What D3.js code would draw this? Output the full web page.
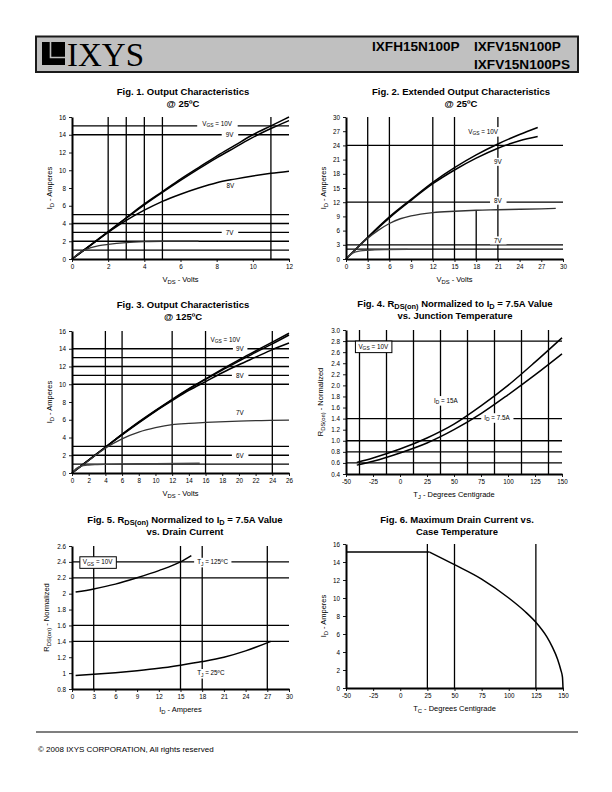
<!DOCTYPE html>
<html><head><meta charset="utf-8">
<script src="https://cdn.jsdelivr.net/npm/d3@7"></script>
<style>
body{margin:0;background:#fff}
svg{display:block}
text{font-family:"Liberation Sans",Arial,Helvetica,sans-serif}
</style>
</head><body>
<svg id="page" width="612" height="792"></svg>
<script>
// ---------- DATA ----------
// Fig 1: Output characteristics @25C
const fig1VDS   = [0,1,2,3,4,5,6,7,8,9,10,11,12];
const fig1Vgs10 = [0,1.55,3.1,4.65,6.2,7.6,9.0,10.3,11.6,12.8,14.0,15.0,16.0];
const fig1Vgs9  = [0,1.5,3.05,4.6,6.1,7.5,8.85,10.15,11.4,12.55,13.7,14.7,15.6];
const fig1Vgs8  = [0,1.5,3.0,4.35,5.5,6.5,7.3,8.0,8.6,9.0,9.35,9.65,9.9];
const fig1Vgs7X = [0,0.5,1,1.5,2,3,4,5,6,7];
const fig1Vgs7  = [0,0.8,1.25,1.5,1.65,1.85,1.95,2.0,2.0,2.0];
const fig1XTicks = [0,2,4,6,8,10,12];
const fig1YTicks = [0,2,4,6,8,10,12,14,16];

// Fig 2: Extended output characteristics @25C
const fig2VDS   = [0,3,6,9,12,15,18,21,24,26.5];
const fig2Vgs10 = [0,4.6,8.9,12.6,16.2,19.3,22.0,24.3,26.3,27.8];
const fig2Vgs9  = [0,4.5,8.7,12.4,15.9,18.8,21.3,23.4,25.0,25.9];
const fig2Vgs8X = [0,1.5,3,4.5,6,7.5,9,12,15,18,21,24,27,29];
const fig2Vgs8  = [0,2.3,4.4,6.1,7.5,8.5,9.1,9.8,10.1,10.3,10.4,10.5,10.6,10.7];
const fig2Vgs7X = [0,1,2,3,4,6,8.5];
const fig2Vgs7  = [0,1.3,1.7,1.85,1.95,2.0,2.05];
const fig2XTicks = [0,3,6,9,12,15,18,21,24,27,30];
const fig2YTicks = [0,3,6,9,12,15,18,21,24,27,30];

// Fig 3: Output characteristics @125C
const fig3VDS   = [0,2,4,6,8,10,12,14,16,18,20,22,24,26];
const fig3Vgs10 = [0,1.45,2.9,4.35,5.75,7.05,8.3,9.5,10.6,11.7,12.75,13.75,14.75,15.75];
const fig3Vgs9  = [0,1.45,2.9,4.35,5.7,7.0,8.25,9.45,10.55,11.6,12.6,13.6,14.55,15.55];
const fig3Vgs8  = [0,1.45,2.9,4.3,5.65,6.95,8.15,9.3,10.3,11.3,12.2,13.05,13.9,14.65];
const fig3Vgs7X = [0,2,4,6,8,10,12,14,16,20,26];
const fig3Vgs7  = [0,1.4,2.8,3.85,4.6,5.1,5.45,5.6,5.7,5.85,5.95];
const fig3Vgs6X = [0,0.5,1,2,3,4,6,10,15.3];
const fig3Vgs6  = [0,0.5,0.75,0.9,0.95,0.98,1.02,1.06,1.1];
const fig3XTicks = [0,2,4,6,8,10,12,14,16,18,20,22,24,26];
const fig3YTicks = [0,2,4,6,8,10,12,14,16];

// Fig 4: RDS(on) vs junction temperature
const fig4TJ    = [-40,-25,0,25,50,75,100,125,150];
const fig4Id15  = [0.61,0.69,0.85,1.05,1.3,1.63,2.0,2.42,2.86];
const fig4Id7_5 = [0.56,0.63,0.78,0.96,1.2,1.49,1.83,2.19,2.57];
const fig4XTicks = [-50,-25,0,25,50,75,100,125,150];
const fig4YTicks = [0.4,0.6,0.8,1.0,1.2,1.4,1.6,1.8,2.0,2.2,2.4,2.6,2.8,3.0];

// Fig 5: RDS(on) vs drain current
const fig5IdHot  = [0.5,3,6,9,12,15,16.5];
const fig5RHot   = [2.02,2.06,2.12,2.2,2.29,2.4,2.48];
const fig5IdCold = [0.5,3,6,9,12,15,18,21,24,27.5];
const fig5RCold  = [0.97,0.985,1.005,1.03,1.06,1.1,1.145,1.2,1.28,1.4];
const fig5XTicks = [0,3,6,9,12,15,18,21,24,27,30];
const fig5YTicks = [0.8,1,1.2,1.4,1.6,1.8,2,2.2,2.4,2.6];

// Fig 6: Max drain current vs case temperature
const fig6FlatTC = [-50,27];
const fig6FlatId = [15.1,15.1];
const fig6TC = [27,50,75,100,115,125,135,140,145,148,149.5,150];
const fig6Id = [15.1,13.7,12.1,10.0,8.5,7.3,5.7,4.6,3.2,2.0,1.2,0];
const fig6XTicks = [-50,-25,0,25,50,75,100,125,150];
const fig6YTicks = [0,2,4,6,8,10,12,14,16];

// ---------- DRAWING ----------
const svg = d3.select("#page");

function rich(sel, str, size) {
  const re = /_\{([^}]*)\}/g;
  let last = 0, m; const parts = [];
  while ((m = re.exec(str))) {
    if (m.index > last) parts.push([str.slice(last, m.index), false]);
    parts.push([m[1], true]);
    last = re.lastIndex;
  }
  if (last < str.length) parts.push([str.slice(last), false]);
  let prevSub = false;
  parts.forEach(([t, s]) => {
    const ts = sel.append("tspan").text(t);
    if (s) ts.attr("font-size", size * 0.78).attr("dy", size * 0.25);
    else if (prevSub) ts.attr("dy", -size * 0.25);
    prevSub = s;
  });
  return sel;
}

function label(g, x, y, str, size, opts) {
  opts = opts || {};
  const t = g.append("text").attr("x", x).attr("y", y)
    .attr("font-size", size).attr("text-anchor", opts.anchor || "start");
  rich(t, str, size);
  const bb = t.node().getBBox();
  const px = opts.padX != null ? opts.padX : 3, py = opts.padY != null ? opts.padY : 0.5;
  const r = g.insert("rect", () => t.node())
    .attr("x", bb.x - px).attr("y", bb.y - py)
    .attr("width", bb.width + 2 * px).attr("height", bb.height + 2 * py)
    .attr("fill", "#fff");
  if (opts.box) r.attr("stroke", "#000").attr("stroke-width", 1);
}

function drawChart(c) {
  const g = svg.append("g");
  const x = d3.scaleLinear().domain(c.xDomain).range(c.xRange);
  const y = d3.scaleLinear().domain(c.yDomain).range(c.yRange);

  c.title.forEach((t, i) => {
    const tx = g.append("text").attr("x", c.titleX).attr("y", c.titleY + i * 12.5)
      .attr("text-anchor", "middle").attr("font-weight", "bold").attr("font-size", 9.5);
    rich(tx, t, 9.5);
  });

  const gridG = g.append("g").attr("stroke", "#000").attr("stroke-width", 1.3);
  (c.vGrid || []).forEach(v => {
    const [xv, lo, hi] = Array.isArray(v) ? v : [v, c.yDomain[0], c.yDomain[1]];
    gridG.append("line").attr("x1", x(xv)).attr("x2", x(xv)).attr("y1", y(lo)).attr("y2", y(hi));
  });
  (c.hGrid || []).forEach(v => {
    const [yv, lo, hi] = Array.isArray(v) ? v : [v, c.xDomain[0], c.xDomain[1]];
    gridG.append("line").attr("y1", y(yv)).attr("y2", y(yv)).attr("x1", x(lo)).attr("x2", x(hi));
  });

  (c.labels || []).forEach(l => label(g, x(l.x), y(l.y), l.text, l.size || 6.3, l));

  c.series.forEach(s => {
    const line = d3.line().x(d => x(d[0])).y(d => y(d[1]))
      .curve(s.linear ? d3.curveLinear : d3.curveMonotoneX);
    g.append("path").attr("d", line(d3.zip(s.x, s.y)))
      .attr("fill", "none").attr("stroke", s.color || "#000")
      .attr("stroke-width", s.width || 1.5).attr("stroke-linejoin", "round");
  });

  const styleAxis = a => {
    a.attr("font-family", '"Liberation Sans",Arial,sans-serif').attr("font-size", 6.3);
    a.select(".domain").attr("stroke-width", 2);
    a.selectAll(".tick line").attr("stroke-width", 0.9);
    a.selectAll(".tick text").attr("fill", "#000");
  };
  const xa = g.append("g").attr("transform", `translate(0,${c.yRange[0]})`)
    .call(d3.axisBottom(x).tickValues(c.xTicks).tickSize(3).tickSizeOuter(0).tickPadding(3)
      .tickFormat(c.xFmt || (d => d)));
  styleAxis(xa);
  const ya = g.append("g").attr("transform", `translate(${c.xRange[0]},0)`)
    .call(d3.axisLeft(y).tickValues(c.yTicks).tickSize(3).tickSizeOuter(0).tickPadding(3)
      .tickFormat(c.yFmt || (d => d)));
  styleAxis(ya);

  const xt = g.append("text").attr("x", (c.xRange[0] + c.xRange[1]) / 2).attr("y", c.yRange[0] + 23)
    .attr("text-anchor", "middle").attr("font-size", 7.5);
  rich(xt, c.xTitle, 7.5);
  const yc = (c.yRange[0] + c.yRange[1]) / 2;
  const yt = g.append("text").attr("transform", `translate(${c.xRange[0] - c.yTitleOff},${yc}) rotate(-90)`)
    .attr("text-anchor", "middle").attr("font-size", 7.5);
  rich(yt, c.yTitle, 7.5);
}

// header
const hdr = svg.append("g");
hdr.append("rect").attr("x", 36).attr("y", 36.5).attr("width", 542).attr("height", 35.5)
  .attr("fill", "#c0c0c0").attr("stroke", "#1a1a1a").attr("stroke-width", 2);
hdr.append("rect").attr("x", 42).attr("y", 42).attr("width", 23).attr("height", 23).attr("fill", "#000");
hdr.append("path").attr("d", "M50.5,42 V57.5 H65").attr("fill", "none").attr("stroke", "#c0c0c0").attr("stroke-width", 1.6);
hdr.append("text").attr("x", 67).attr("y", 65.5).attr("font-size", 33)
  .style("font-family", '"Liberation Serif","Times New Roman",serif').text("IXYS");
hdr.append("text").attr("x", 372).attr("y", 51).attr("font-size", 13.6).attr("font-weight", "bold").text("IXFH15N100P");
hdr.append("text").attr("x", 474).attr("y", 51).attr("font-size", 13.6).attr("font-weight", "bold").text("IXFV15N100P");
hdr.append("text").attr("x", 474).attr("y", 69).attr("font-size", 13.6).attr("font-weight", "bold").text("IXFV15N100PS");

// Fig 1
drawChart({
  xDomain: [0, 12], xRange: [72, 289], yDomain: [0, 16], yRange: [259, 117],
  xTicks: fig1XTicks, yTicks: fig1YTicks,
  title: ["Fig. 1. Output Characteristics", "@ 25ºC"], titleX: 183, titleY: 94.5,
  vGrid: [2, 3, 4, 5, 11], hGrid: [1, 2, 3, 4, 5, 14, 15],
  labels: [
    { x: 7.2, y: 15, text: "V_{GS} = 10V", padX: 5 },
    { x: 8.5, y: 13.8, text: "9V", padX: 4 },
    { x: 8.55, y: 7.95, text: "8V", padX: 0 },
    { x: 8.5, y: 2.75, text: "7V", padX: 4 }
  ],
  series: [
    { x: fig1VDS, y: fig1Vgs10 }, { x: fig1VDS, y: fig1Vgs9 }, { x: fig1VDS, y: fig1Vgs8 },
    { x: fig1Vgs7X, y: fig1Vgs7, color: "#333", width: 1.3 }
  ],
  xTitle: "V_{DS} - Volts", yTitle: "I_{D} - Amperes", yTitleOff: 20
});

// Fig 2
drawChart({
  xDomain: [0, 30], xRange: [346, 563], yDomain: [0, 30], yRange: [259, 117],
  xTicks: fig2XTicks, yTicks: fig2YTicks,
  title: ["Fig. 2. Extended Output Characteristics", "@ 25ºC"], titleX: 461, titleY: 94.5,
  vGrid: [3, 6, 12, 15, [18, 0, 10.2], 21], hGrid: [2.1, 3, 12, 24],
  labels: [
    { x: 16.9, y: 26.5, text: "V_{GS} = 10V", padX: 1 },
    { x: 21, y: 20, text: "9V", anchor: "middle", padX: 4 },
    { x: 21, y: 11.8, text: "8V", anchor: "middle", padX: 4 },
    { x: 21, y: 3.4, text: "7V", anchor: "middle", padX: 4 }
  ],
  series: [
    { x: fig2VDS, y: fig2Vgs10 }, { x: fig2VDS, y: fig2Vgs9 },
    { x: fig2Vgs8X, y: fig2Vgs8, color: "#333", width: 1.4 },
    { x: fig2Vgs7X, y: fig2Vgs7, color: "#444", width: 1.3 }
  ],
  xTitle: "V_{DS} - Volts", yTitle: "I_{D} - Amperes", yTitleOff: 20
});

// Fig 3
drawChart({
  xDomain: [0, 26], xRange: [72, 289], yDomain: [0, 16], yRange: [473, 331],
  xTicks: fig3XTicks, yTicks: fig3YTicks,
  title: ["Fig. 3. Output Characteristics", "@ 125ºC"], titleX: 183, titleY: 307.5,
  vGrid: [4, 6, 12, 16, 24], hGrid: [1, 2, 3, 10, 11, 12, 13, 14],
  labels: [
    { x: 16.6, y: 14.8, text: "V_{GS} = 10V", padX: 3 },
    { x: 20.1, y: 13.8, text: "9V", anchor: "middle", padX: 3 },
    { x: 20.1, y: 10.75, text: "8V", anchor: "middle", padX: 4 },
    { x: 20.1, y: 6.5, text: "7V", anchor: "middle", padX: 0 },
    { x: 20.1, y: 1.7, text: "6V", anchor: "middle", padX: 4 }
  ],
  series: [
    { x: fig3VDS, y: fig3Vgs10 }, { x: fig3VDS, y: fig3Vgs9 }, { x: fig3VDS, y: fig3Vgs8 },
    { x: fig3Vgs7X, y: fig3Vgs7, color: "#333", width: 1.3 },
    { x: fig3Vgs6X, y: fig3Vgs6, color: "#444", width: 1.3 }
  ],
  xTitle: "V_{DS} - Volts", yTitle: "I_{D} - Amperes", yTitleOff: 20
});

// Fig 4
drawChart({
  xDomain: [-50, 150], xRange: [346, 562], yDomain: [0.4, 3.0], yRange: [474, 330],
  xTicks: fig4XTicks, yTicks: fig4YTicks, yFmt: d3.format(".1f"),
  title: ["Fig. 4. R_{DS(on)} Normalized to I_{D} = 7.5A Value", "vs. Junction Temperature"], titleX: 455, titleY: 306.5,
  vGrid: [-37.5, -12.5, 12.5, 37.5, 62.5, 87.5, 112.5, 137.5], hGrid: [0.6, 0.8, 1.0, 1.4, 2.8],
  labels: [
    { x: -38.5, y: 2.665, text: "V_{GS} = 10V", box: true, padX: 3, padY: 1.5 },
    { x: 31.5, y: 1.69, text: "I_{D} = 15A", padX: 1 },
    { x: 78, y: 1.38, text: "I_{D} = 7.5A", padX: 3 }
  ],
  series: [{ x: fig4TJ, y: fig4Id15 }, { x: fig4TJ, y: fig4Id7_5 }],
  xTitle: "T_{J} - Degrees Centigrade", yTitle: "R_{DS(on)} - Normalized", yTitleOff: 23
});

// Fig 5
drawChart({
  xDomain: [0, 30], xRange: [72, 289], yDomain: [0.8, 2.6], yRange: [689, 546],
  xTicks: fig5XTicks, yTicks: fig5YTicks,
  title: ["Fig. 5. R_{DS(on)} Normalized to I_{D} = 7.5A Value", "vs. Drain Current"], titleX: 185, titleY: 522.5,
  vGrid: [3, 15, 18, 27], hGrid: [1.4, 1.6, 2.2, 2.4],
  labels: [
    { x: 1.5, y: 2.37, text: "V_{GS} = 10V", box: true, padX: 3, padY: 1.5 },
    { x: 17.3, y: 2.37, text: "T_{J} = 125ºC", padX: 3 },
    { x: 17.3, y: 0.97, text: "T_{J} = 25ºC", padX: 2 }
  ],
  series: [{ x: fig5IdHot, y: fig5RHot }, { x: fig5IdCold, y: fig5RCold }],
  xTitle: "I_{D} - Amperes", yTitle: "R_{DS(on)} - Normalized", yTitleOff: 23
});

// Fig 6
drawChart({
  xDomain: [-50, 150], xRange: [346, 563], yDomain: [0, 16], yRange: [688, 544],
  xTicks: fig6XTicks, yTicks: fig6YTicks,
  title: ["Fig. 6. Maximum Drain Current vs.", "Case Temperature"], titleX: 457, titleY: 522.5,
  vGrid: [25, 50, 125], hGrid: [],
  labels: [],
  series: [{ x: fig6FlatTC, y: fig6FlatId, linear: true }, { x: fig6TC, y: fig6Id }],
  xTitle: "T_{C} - Degrees Centigrade", yTitle: "I_{D} - Amperes", yTitleOff: 20
});

// footer
svg.append("line").attr("x1", 36).attr("x2", 578).attr("y1", 732).attr("y2", 732).attr("stroke", "#000").attr("stroke-width", 1.2);
svg.append("text").attr("x", 38).attr("y", 752).attr("font-size", 8).text("© 2008 IXYS CORPORATION, All rights reserved");
</script>
</body></html>
